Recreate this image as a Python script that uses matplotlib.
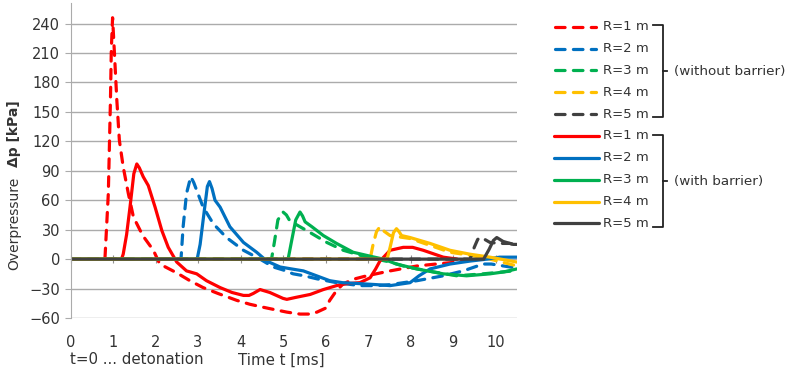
import matplotlib
matplotlib.use("Agg")
import matplotlib.pyplot as plt
from matplotlib.lines import Line2D

# time [ms] and overpressure [kPa]
# without barrier (dashed)
red_dash_t = [0, 0.81, 0.89, 0.94, 0.96, 0.99, 1.03, 1.09, 1.15, 1.24, 1.36, 1.48, 1.70, 1.95, 2.10, 2.50, 2.81, 3.12,
              3.47, 3.91, 4.22, 4.53, 4.75, 5.09, 5.40, 5.63, 5.80, 6.00, 6.10, 6.26, 6.42, 6.70, 6.97, 7.52, 8.15,
              8.60, 9.09, 9.56, 9.70]
red_dash_p = [0, 0, 67, 162, 213, 246, 213, 162, 121, 94, 67, 43, 24, 9, -5, -14, -22, -29,
              -35, -42, -46, -49, -51, -54, -56, -56, -54, -50, -42, -32, -25, -20, -17, -12, -7,
              -5, -3, 0, 0]
blue_dash_t = [0, 2.60, 2.65, 2.73, 2.83, 2.90, 2.97, 3.12, 3.36, 3.67, 4.07, 4.46, 4.77, 5.00, 5.24, 5.50, 5.79,
               6.26, 6.81, 7.20, 7.52, 8.15, 8.77, 9.24, 9.71, 9.90, 10.34, 10.5]
blue_dash_p = [0, 0, 33, 67, 84, 78, 70, 53, 36, 22, 9, 0, -8, -11, -15, -17, -20,
               -24, -27, -27, -26, -22, -17, -12, -5, -5, -8, -9]
green_dash_t = [0, 4.73, 4.80, 4.88, 5.00, 5.08, 5.16, 5.40, 5.64, 6.03, 6.42, 6.81, 7.20, 7.52, 7.91, 8.54, 9.09,
                9.71, 10.42, 10.5]
green_dash_p = [0, 0, 18, 40, 48, 45, 39, 33, 27, 17, 9, 4, 0, -3, -8, -13, -17,
                -15, -12, -12]
yellow_dash_t = [0, 7.05, 7.12, 7.20, 7.28, 7.36, 7.52, 7.99, 8.46, 8.93, 9.40, 9.87, 10.42, 10.5]
yellow_dash_p = [0, 0, 15, 28, 33, 29, 24, 21, 14, 7, 4, 0, -6, -7]
gray_dash_t = [0, 9.40, 9.50, 9.58, 9.64, 9.75, 9.87, 10.10, 10.34, 10.5]
gray_dash_p = [0, 0, 12, 20, 22, 20, 17, 16, 16, 14]

# with barrier (solid)
red_t = [0, 1.20, 1.24, 1.32, 1.40, 1.49, 1.56, 1.62, 1.71, 1.83, 1.99, 2.15, 2.30, 2.50, 2.73, 2.97, 3.20, 3.52,
         3.80, 4.07, 4.20, 4.30, 4.46, 4.69, 5.00, 5.09, 5.30, 5.64, 5.95, 6.26, 6.50, 6.81, 7.05, 7.18, 7.28,
         7.52, 7.83, 8.05, 8.30, 8.77, 9.10]
red_p = [0, 0, 5, 25, 53, 87, 97, 93, 84, 75, 53, 29, 12, -3, -12, -15, -22, -29,
         -34, -37, -37, -35, -31, -34, -40, -41, -39, -36, -31, -27, -25, -24, -19, -10, -2,
         9, 12, 12, 9, 2, 0]
blue_t = [0, 2.98, 3.05, 3.15, 3.22, 3.27, 3.33, 3.40, 3.52, 3.75, 4.07, 4.38, 4.62, 4.93, 5.20, 5.48, 5.79,
          6.10, 6.40, 6.81, 7.20, 7.52, 7.99, 8.20, 8.46, 8.93, 9.40, 9.80, 10.1, 10.5]
blue_p = [0, 0, 15, 50, 74, 79, 72, 60, 53, 33, 17, 7, -2, -8, -10, -12, -17,
          -22, -24, -25, -26, -27, -24, -17, -10, -5, -2, 0, 2, 2]
green_t = [0, 5.12, 5.20, 5.30, 5.40, 5.46, 5.52, 5.68, 5.95, 6.26, 6.65, 7.05, 7.36, 7.67, 8.15, 8.77, 9.32,
           9.87, 10.20, 10.5]
green_p = [0, 0, 18, 40, 48, 44, 38, 33, 24, 16, 7, 3, 0, -5, -10, -15, -17,
           -15, -13, -10]
yellow_t = [0, 7.45, 7.52, 7.60, 7.67, 7.73, 7.79, 7.99, 8.46, 8.93, 9.40, 9.87, 10.5]
yellow_p = [0, 0, 12, 27, 31, 28, 24, 22, 16, 9, 5, 2, -3]
gray_t = [0, 9.72, 9.85, 9.95, 10.03, 10.18, 10.42, 10.5]
gray_p = [0, 0, 10, 19, 22, 18, 15, 15]

labels = ["R=1 m", "R=2 m", "R=3 m", "R=4 m", "R=5 m"]
colors = ["#FF0000", "#0070C0", "#00B050", "#FFC000", "#404040"]
dashed = [(red_dash_t, red_dash_p), (blue_dash_t, blue_dash_p), (green_dash_t, green_dash_p),
          (yellow_dash_t, yellow_dash_p), (gray_dash_t, gray_dash_p)]
solid = [(red_t, red_p), (blue_t, blue_p), (green_t, green_p), (yellow_t, yellow_p), (gray_t, gray_p)]

txt = "#333333"
grid_c = "#ABABAB"
lw = 2.3
dash_style = (3.0, 2.6)

fig = plt.figure(figsize=(7.88, 3.73), dpi=100)
ax = fig.add_axes([70.5 / 788, 55 / 373, (516.75 - 70.5) / 788, 315 / 373])

for (t, p), c in zip(dashed, colors):
    ax.plot(t, p, color=c, lw=lw, dashes=dash_style, dash_capstyle="round", solid_joinstyle="round")
for (t, p), c in zip(solid, colors):
    ax.plot(t, p, color=c, lw=lw, solid_joinstyle="round", solid_capstyle="round")

ax.set_xlim(0, 10.5)
ax.set_ylim(-60, 261)
ax.set_yticks(range(-60, 241, 30))
ax.set_xticks(range(0, 11))
ax.grid(axis="y", color=grid_c, lw=1)
ax.set_axisbelow(True)
for s in ["top", "right"]:
    ax.spines[s].set_visible(False)
ax.spines["left"].set_color(grid_c)
ax.spines["bottom"].set_position(("data", 0))
ax.spines["bottom"].set_visible(False)
ax.tick_params(axis="y", length=4.5, color=grid_c, labelsize=10.5, labelcolor=txt, pad=3)
ax.tick_params(axis="x", direction="inout", length=6, color="#909090", labelbottom=False)

sec = ax.secondary_xaxis("bottom")
sec.set_xticks(range(0, 11))
sec.tick_params(length=0, pad=12, labelsize=10.5, labelcolor=txt)
sec.spines["bottom"].set_visible(False)

fig.text(70 / 788, 1 - 360 / 373, "t=0 ... detonation", fontsize=10.8, color=txt, ha="left", va="center")
fig.text(281 / 788, 1 - 360 / 373, "Time t [ms]", fontsize=10.8, color=txt, ha="center", va="center")
fig.text(14 / 788, 1 - 223 / 373, "Overpressure", fontsize=10, color=txt, rotation=90, ha="center", va="center")
fig.text(14 / 788, 1 - 134 / 373, "\u0394p [kPa]", fontsize=10, color=txt, rotation=90, ha="center", va="center",
         fontweight="bold")

# legend with brackets
def fx(x):
    return x / 788


def fy(y):
    return 1 - y / 373


row_y = [26.7 + 21.85 * i for i in range(10)]
for i in range(10):
    c = colors[i % 5]
    y = row_y[i]
    if i < 5:
        ln = Line2D([fx(555), fx(596)], [fy(y), fy(y)], color=c, lw=lw, dashes=dash_style, dash_capstyle="round")
    else:
        ln = Line2D([fx(554), fx(599)], [fy(y), fy(y)], color=c, lw=lw, solid_capstyle="round")
    fig.add_artist(ln)
    fig.text(fx(603), fy(y), labels[i % 5], fontsize=9.5, color=txt, ha="left", va="center")

for top, bot, label in [(25, 117, "(without barrier)"), (135, 227, "(with barrier)")]:
    mid = (top + bot) / 2
    fig.add_artist(Line2D([fx(653), fx(662.5), fx(662.5), fx(653)], [fy(top), fy(top), fy(bot), fy(bot)],
                          color="#222222", lw=1.3))
    fig.add_artist(Line2D([fx(662.5), fx(667)], [fy(mid), fy(mid)], color="#222222", lw=1.3))
    fig.text(fx(674), fy(mid), label, fontsize=9.7, color=txt, ha="left", va="center")

fig.savefig("out.png", dpi=100)
plt.close(fig)
